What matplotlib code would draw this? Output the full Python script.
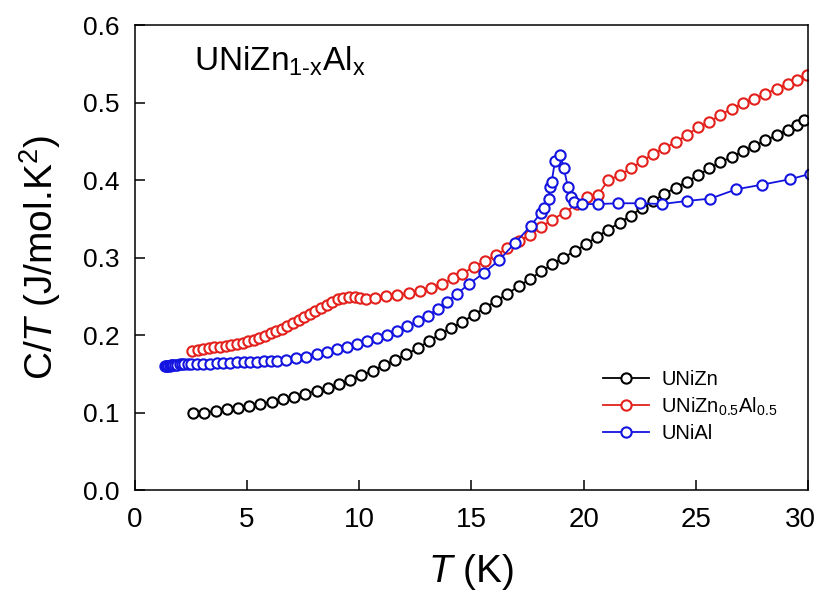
import matplotlib
matplotlib.use("Agg")
import matplotlib.pyplot as plt
from matplotlib.transforms import ScaledTranslation

plt.rcParams["font.family"] = ["Liberation Sans", "DejaVu Sans"]
plt.rcParams["mathtext.fontset"] = "custom"
plt.rcParams["mathtext.rm"] = "Liberation Sans"
plt.rcParams["mathtext.it"] = "Liberation Sans:italic"
plt.rcParams["mathtext.bf"] = "Liberation Sans:bold"

# Specific heat C/T (J/mol K^2) versus temperature T (K)
t_zn = [2.6, 3.1, 3.6, 4.1, 4.6, 5.1, 5.6, 6.1, 6.6, 7.1, 7.6, 8.1, 8.6, 9.1,
        9.6, 10.1, 10.6, 11.1, 11.6, 12.1, 12.6, 13.1, 13.6, 14.1, 14.6, 15.1,
        15.6, 16.1, 16.6, 17.1, 17.6, 18.1, 18.6, 19.1, 19.6, 20.1, 20.6, 21.1,
        21.6, 22.1, 22.6, 23.1, 23.6, 24.1, 24.6, 25.1, 25.6, 26.1, 26.6, 27.1,
        27.6, 28.1, 28.6, 29.1, 29.5, 29.8]
ct_zn = [0.099, 0.100, 0.102, 0.104, 0.106, 0.108, 0.111, 0.114, 0.117, 0.120,
         0.124, 0.128, 0.132, 0.137, 0.142, 0.148, 0.154, 0.161, 0.168, 0.175,
         0.183, 0.192, 0.201, 0.209, 0.217, 0.226, 0.235, 0.244, 0.253, 0.263,
         0.272, 0.282, 0.291, 0.300, 0.308, 0.317, 0.327, 0.336, 0.345, 0.354,
         0.364, 0.373, 0.382, 0.390, 0.398, 0.406, 0.415, 0.423, 0.430, 0.437,
         0.444, 0.451, 0.458, 0.465, 0.471, 0.477]

t_znal = [2.55, 2.8, 3.05, 3.3, 3.55, 3.8, 4.05, 4.3, 4.55, 4.8, 5.05, 5.3,
          5.55, 5.8, 6.05, 6.3, 6.55, 6.8, 7.05, 7.3, 7.55, 7.8, 8.05, 8.3,
          8.55, 8.8, 9.05, 9.3, 9.55, 9.8, 10.05, 10.3, 10.7, 11.2, 11.7, 12.2,
          12.7, 13.2, 13.7, 14.2, 14.6, 15.1, 15.6, 16.1, 16.6, 17.1, 17.6,
          18.1, 18.6, 19.15, 19.7, 20.15, 20.65, 21.1, 21.6, 22.1, 22.6, 23.1,
          23.6, 24.1, 24.6, 25.1, 25.6, 26.1, 26.6, 27.1, 27.6, 28.1, 28.6,
          29.1, 29.5, 29.95]
ct_znal = [0.180, 0.181, 0.182, 0.183, 0.184, 0.185, 0.186, 0.187, 0.188,
           0.190, 0.192, 0.194, 0.196, 0.199, 0.202, 0.205, 0.208, 0.211,
           0.215, 0.219, 0.223, 0.227, 0.231, 0.235, 0.239, 0.243, 0.246,
           0.248, 0.249, 0.249, 0.248, 0.247, 0.248, 0.250, 0.251, 0.254,
           0.257, 0.261, 0.266, 0.273, 0.279, 0.288, 0.295, 0.303, 0.312,
           0.321, 0.329, 0.339, 0.349, 0.358, 0.369, 0.378, 0.381, 0.400,
           0.406, 0.415, 0.424, 0.434, 0.441, 0.449, 0.458, 0.468, 0.475,
           0.484, 0.492, 0.499, 0.505, 0.511, 0.518, 0.524, 0.529, 0.535]

t_al = [1.35, 1.4, 1.45, 1.5, 1.55, 1.6, 1.65, 1.7, 1.8, 1.9, 2.0, 2.1, 2.2,
        2.35, 2.5, 2.75, 3.05, 3.35, 3.65, 3.95, 4.25, 4.55, 4.85, 5.15, 5.45,
        5.75, 6.05, 6.35, 6.75, 7.2, 7.65, 8.1, 8.55, 9.0, 9.45, 9.9, 10.35,
        10.8, 11.25, 11.7, 12.15, 12.6, 13.05, 13.5, 13.9, 14.35, 14.9, 15.55,
        16.25, 16.95, 17.65, 18.1, 18.22, 18.44, 18.5, 18.58, 18.72, 18.96,
        19.12, 19.3, 19.42, 19.55, 19.93, 20.65, 21.55, 22.5, 23.5, 24.6,
        25.65, 26.8, 27.95, 29.2, 30.1]
ct_al = [0.160, 0.160, 0.160, 0.160, 0.160, 0.161, 0.161, 0.161, 0.161, 0.161,
         0.162, 0.162, 0.162, 0.162, 0.162, 0.163, 0.163, 0.163, 0.164, 0.164,
         0.164, 0.165, 0.165, 0.165, 0.165, 0.166, 0.166, 0.167, 0.168, 0.170,
         0.172, 0.175, 0.178, 0.182, 0.185, 0.188, 0.192, 0.196, 0.200, 0.205,
         0.211, 0.218, 0.225, 0.234, 0.243, 0.253, 0.266, 0.280, 0.297, 0.319,
         0.341, 0.358, 0.364, 0.376, 0.391, 0.398, 0.424, 0.432, 0.415, 0.391,
         0.378, 0.372, 0.369, 0.369, 0.370, 0.370, 0.369, 0.373, 0.376, 0.388,
         0.394, 0.401, 0.408]

x_ticks = [0, 5, 10, 15, 20, 25, 30]
y_ticks = [0.0, 0.1, 0.2, 0.3, 0.4, 0.5, 0.6]
y_tick_labels = ["0.0", "0.1", "0.2", "0.3", "0.4", "0.5", "0.6"]

series = [
    (t_zn, ct_zn, "black", r"UNiZn"),
    (t_znal, ct_znal, "#e3201b", r"UNiZn$_{\mathrm{0.5}}$Al$_{\mathrm{0.5}}$"),
    (t_al, ct_al, "#1414e0", r"UNiAl"),
]

fig = plt.figure(figsize=(8.17, 6.0), dpi=100)
ax = fig.add_axes([0.165, 0.1833, 0.824, 0.775])

for t, ct, color, label in series:
    ax.plot(t, ct, "-o", color=color, lw=1.3, ms=7.4, mew=1.5,
            mfc="white", mec=color, label=label)

ax.set_xlim(0, 30)
ax.set_ylim(0, 0.6)
ax.set_xticks(x_ticks)
ax.set_yticks(y_ticks)
ax.set_yticklabels(y_tick_labels)
ax.tick_params(direction="in", length=7, width=1.1, top=False, right=False)
ax.tick_params(axis="x", pad=12, labelsize=20)
ax.tick_params(axis="y", pad=11, labelsize=19)

# keep the last temperature label inside the figure edge
last = ax.get_xticklabels()[-1]
last.set_horizontalalignment("right")
last.set_transform(last.get_transform()
                   + ScaledTranslation(8 / 100, 0, fig.dpi_scale_trans))

for s in ax.spines.values():
    s.set_linewidth(1.1)

ax.set_xlabel(r"$\mathit{T}$ (K)", fontsize=28, labelpad=14)
ax.set_ylabel(r"C/$\mathit{T}$ (J/mol.K$^{\mathrm{2}}$)", fontsize=28,
              labelpad=14)

ax.text(0.088, 0.922, r"UNiZn$_{\mathrm{1\text{-}x}}$Al$_{\mathrm{x}}$",
        transform=ax.transAxes, fontsize=24, ha="left", va="center")

ax.legend(loc="upper left", bbox_to_anchor=(0.695, 0.258), frameon=False,
          fontsize=14.5, handlelength=2.3, handletextpad=0.6,
          labelspacing=0.32, borderpad=0, borderaxespad=0)

fig.savefig("out.png", dpi=100)
